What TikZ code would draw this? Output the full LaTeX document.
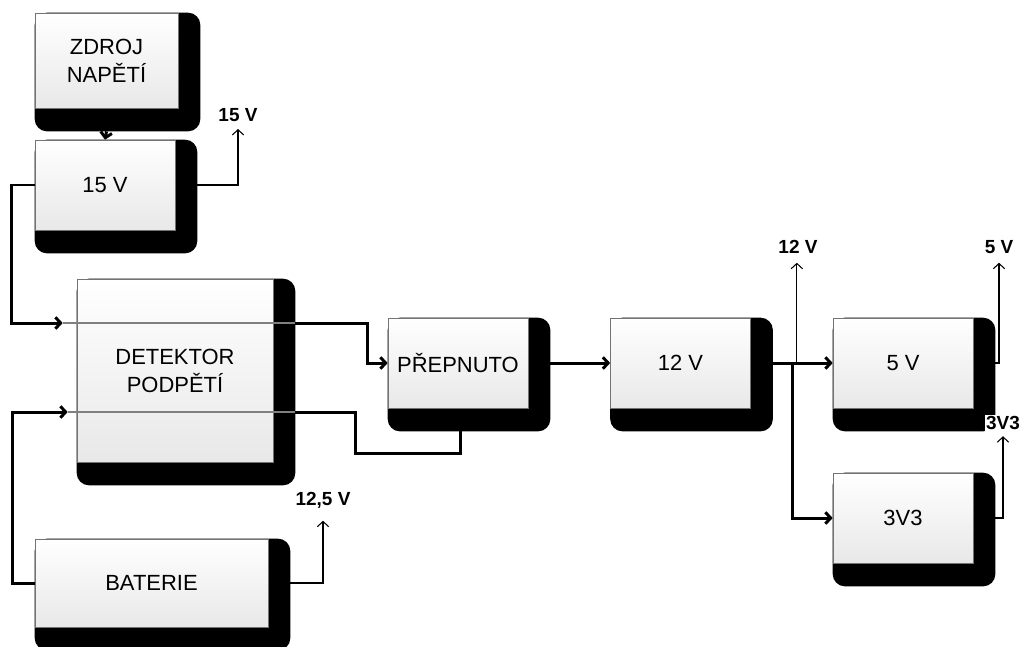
\documentclass[tikz,border=0pt]{standalone}
\usepackage{fontspec}
\setmainfont{Liberation Sans}
\usetikzlibrary{arrows.meta,calc,backgrounds}

\begin{document}
\begin{tikzpicture}[
    x=0.02cm, y=-0.02cm,
    block/.style={
      draw=black!55,
      line width=0.4pt,
      top color=white,
      bottom color=black!9,
      align=center,
      inner sep=0pt,
      minimum width=2.8cm,
      minimum height=1.8cm,
      font=\fontsize{12.5}{16}\selectfont
    },
    lead/.style={line width=1.7pt, -{Straight Barb[length=3pt,width=6.5pt]}},
    tap/.style={line width=0.6pt, -{Straight Barb[length=3pt,width=6.5pt]}},
    volt/.style={font=\bfseries\fontsize{10.8}{12}\selectfont, inner sep=1pt}
  ]
  \useasboundingbox (0,0) rectangle (1020,646);

  \node[block, minimum width=2.86cm, minimum height=1.9cm] (zdroj) at (106.5,60.5)
    {ZDROJ\\NAPĚTÍ};
  \node[block] (u15) at (105,185) {15 V};
  \node[block, minimum width=3.92cm, minimum height=3.66cm] (detektor) at (175,370.5)
    {DETEKTOR\\PODPĚTÍ};
  \node[block, minimum width=4.66cm, minimum height=1.76cm] (baterie) at (151.5,583)
    {BATERIE};
  \node[block] (prepnuto) at (458,363) {PŘEPNUTO};
  \node[block] (u12) at (680.5,363) {12 V};
  \node[block] (u5) at (903,363) {5 V};
  \node[block] (u3v3) at (903,518) {3V3};

  % stiny
  \begin{scope}[on background layer]
    \foreach \n in {zdroj,u15,detektor,baterie,prepnuto,u12,u5,u3v3}
      \fill[black, rounded corners=7pt]
        (\n.north west) rectangle ($(\n.south east)+(22,23)$);
  \end{scope}

  \node[volt] (l15) at (238,115) {15 V};
  \node[volt] (l125) at (323,500) {12,5 V};
  \node[volt] (l12) at (798,247) {12 V};
  \node[volt] (l5) at (999,247) {5 V};
  \node[volt, fill=white, inner sep=0.5pt] (l33) at (1003,423) {3V3};

  \coordinate (inA) at ($(detektor.west)+(-14,-47.5)$);
  \coordinate (outA) at ($(detektor.east)+(22,-47.5)$);
  \coordinate (inB) at ($(detektor.west)+(-9,41.5)$);
  \coordinate (outB) at ($(detektor.east)+(22,41.5)$);
  \coordinate (tap12) at ($(u12.east)+(46,0)$);

  \draw[lead] ($(zdroj.south)+(0,23)$) -- (u15.north);
  \draw[tap, shorten >=3pt] ($(u15.east)+(22,0)$) -| (l15.south);

  % 15 V -> detektor -> prepnuto
  \draw[lead] (u15.west) -- ++(-23,0) |- (inA);
  \draw[black!50, line width=0.6pt] (inA) -- (outA);
  \draw[lead] (outA) -- ++(72,0) |- (prepnuto.west);

  % baterie -> detektor -> prepnuto
  \draw[lead] (baterie.west) -- ++(-22,0) |- (inB);
  \draw[black!50, line width=0.6pt] (inB) -- (outB);
  \draw[line width=1.7pt] (outB) -- ++(60,0)
    |- ($(prepnuto.south)+(2,45)$) -- ($(prepnuto.south)+(2,23)$);
  \draw[tap, shorten >=6pt] ($(baterie.east)+(22,0)$) -| (l125.south);

  \draw[lead] ($(prepnuto.east)+(22,0)$) -- (u12.west);
  \draw[lead] ($(u12.east)+(22,0)$) -- (u5.west);
  \draw[lead] ($(u12.east)+(42,0)$) |- (u3v3.west);
  \draw[tap, shorten >=4pt] (tap12) -- (tap12 |- l12.south);

  \draw[tap, shorten >=4pt] ($(u5.east)+(22,0)$) -| (l5.south);
  \draw[tap, shorten >=3pt] ($(u3v3.east)+(22,0)$) -| (l33.south);
\end{tikzpicture}
\end{document}
